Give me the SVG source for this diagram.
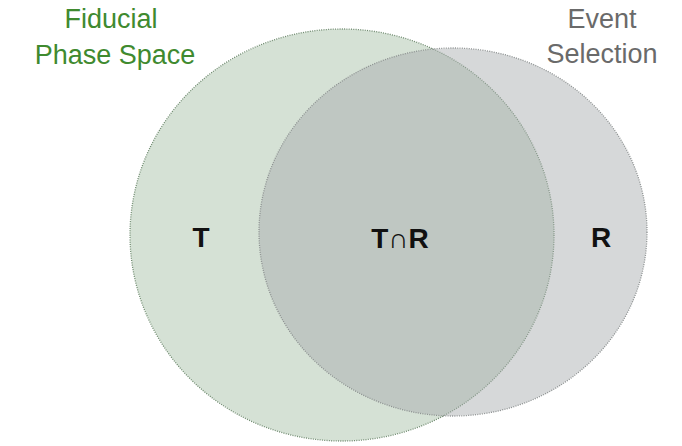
<svg xmlns="http://www.w3.org/2000/svg" width="682" height="446" viewBox="0 0 682 446">
<style>
.set{stroke-width:1.3;stroke-dasharray:1 1.3}
.title{font-family:"Liberation Sans",Arial,sans-serif;font-size:27px;text-anchor:middle}
.lbl{font-family:"Liberation Sans",Arial,sans-serif;font-size:28px;font-weight:bold;text-anchor:middle;fill:#111}
</style>
<rect width="682" height="446" fill="#ffffff"/>
<g id="fiducial">
<ellipse class="set" cx="342" cy="235" rx="212" ry="206" fill="#96b496" fill-opacity="0.4" stroke="#6f8a6f"/>
</g>
<g id="selection">
<ellipse class="set" cx="453" cy="232" rx="194" ry="184" fill="#a4a9aa" fill-opacity="0.45" stroke="#8c9090"/>
</g>
<g id="titles">
<text class="title" x="111" y="28" fill="#3f8a2f">Fiducial</text>
<text class="title" x="115" y="64" fill="#3f8a2f">Phase Space</text>
<text class="title" x="602" y="28" fill="#6a6a6a">Event</text>
<text class="title" x="602" y="63" fill="#6a6a6a">Selection</text>
</g>
<g id="labels">
<text class="lbl" x="201" y="247">T</text>
<text class="lbl" x="400" y="248">T∩R</text>
<text class="lbl" x="601" y="247">R</text>
</g>
</svg>
